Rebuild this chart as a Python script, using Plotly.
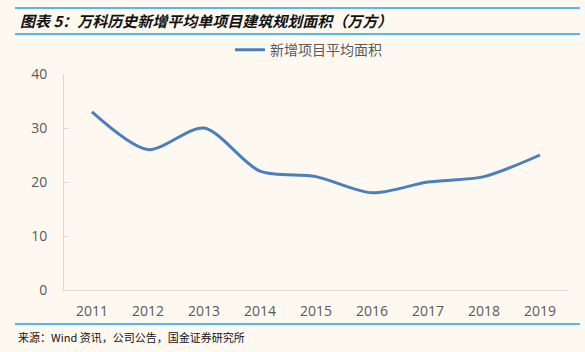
import plotly.graph_objects as go

years = ["2011", "2012", "2013", "2014", "2015", "2016", "2017", "2018", "2019"]
area = [33, 26, 30, 22, 21, 18, 20, 21, 25]
series_name = "新增项目平均面积"
y_ticks = [0, 10, 20, 30, 40]

BG = "#FEF9F0"
fig = go.Figure()
fig.add_trace(go.Scatter(
    x=years, y=area, mode="lines", name=series_name,
    line=dict(color="#4A7EBD", width=3, shape="spline", smoothing=0.8),
))

W, H = 585, 352
L, R, T, B = 64, 17, 74, 62

fig.update_layout(
    width=W, height=H,
    margin=dict(l=L, r=R, t=T, b=B),
    paper_bgcolor=BG, plot_bgcolor=BG,
    font=dict(family="Open Sans, Noto Sans CJK SC", color="#595959", size=14),
    showlegend=True,
    legend=dict(orientation="h", x=0.485, xanchor="center", y=1.11, yanchor="middle",
                font=dict(size=14, color="#595959", family="Noto Sans CJK SC"),
                bgcolor="rgba(0,0,0,0)"),
    xaxis=dict(type="category", range=[-0.5, len(years) - 0.5], showgrid=False,
               showline=True, linecolor="#D9D9D9",
               linewidth=1, ticks="", tickfont=dict(size=14, color="#595959"),
               ticklabelstandoff=8, zeroline=False, fixedrange=True),
    yaxis=dict(range=[0, 40], tickvals=y_ticks, showgrid=False, showline=True,
               linecolor="#D9D9D9", linewidth=1, ticks="inside", ticklen=5,
               tickcolor="#D9D9D9", tickfont=dict(size=14, color="#595959"),
               ticklabelstandoff=13, zeroline=False, fixedrange=True),
)

# header/footer lines
for yp in [8, 34, 324]:
    fig.add_shape(type="line", xref="paper", yref="paper",
                  x0=-(L - 15) / (W - L - R), x1=(W - L - 5) / (W - L - R),
                  y0=(H - B - yp) / (H - T - B), y1=(H - B - yp) / (H - T - B),
                  line=dict(color="#1AA3E8", width=1.5))

fig.add_annotation(text="<b><i>图表 5：万科历史新增平均单项目建筑规划面积（万方）</i></b>",
                   xref="paper", yref="paper",
                   x=-(L - 18) / (W - L - R), xanchor="left",
                   y=(H - B - 21) / (H - T - B), yanchor="middle",
                   showarrow=False, font=dict(size=15, color="#111111", family="Noto Sans CJK SC"))
fig.add_annotation(text="来源：Wind 资讯，公司公告，国金证券研究所",
                   xref="paper", yref="paper",
                   x=-(L - 16) / (W - L - R), xanchor="left",
                   y=(H - B - 337) / (H - T - B), yanchor="middle",
                   showarrow=False, font=dict(size=11, color="#111111", family="Noto Sans CJK SC"))

fig.write_html("out.html")
